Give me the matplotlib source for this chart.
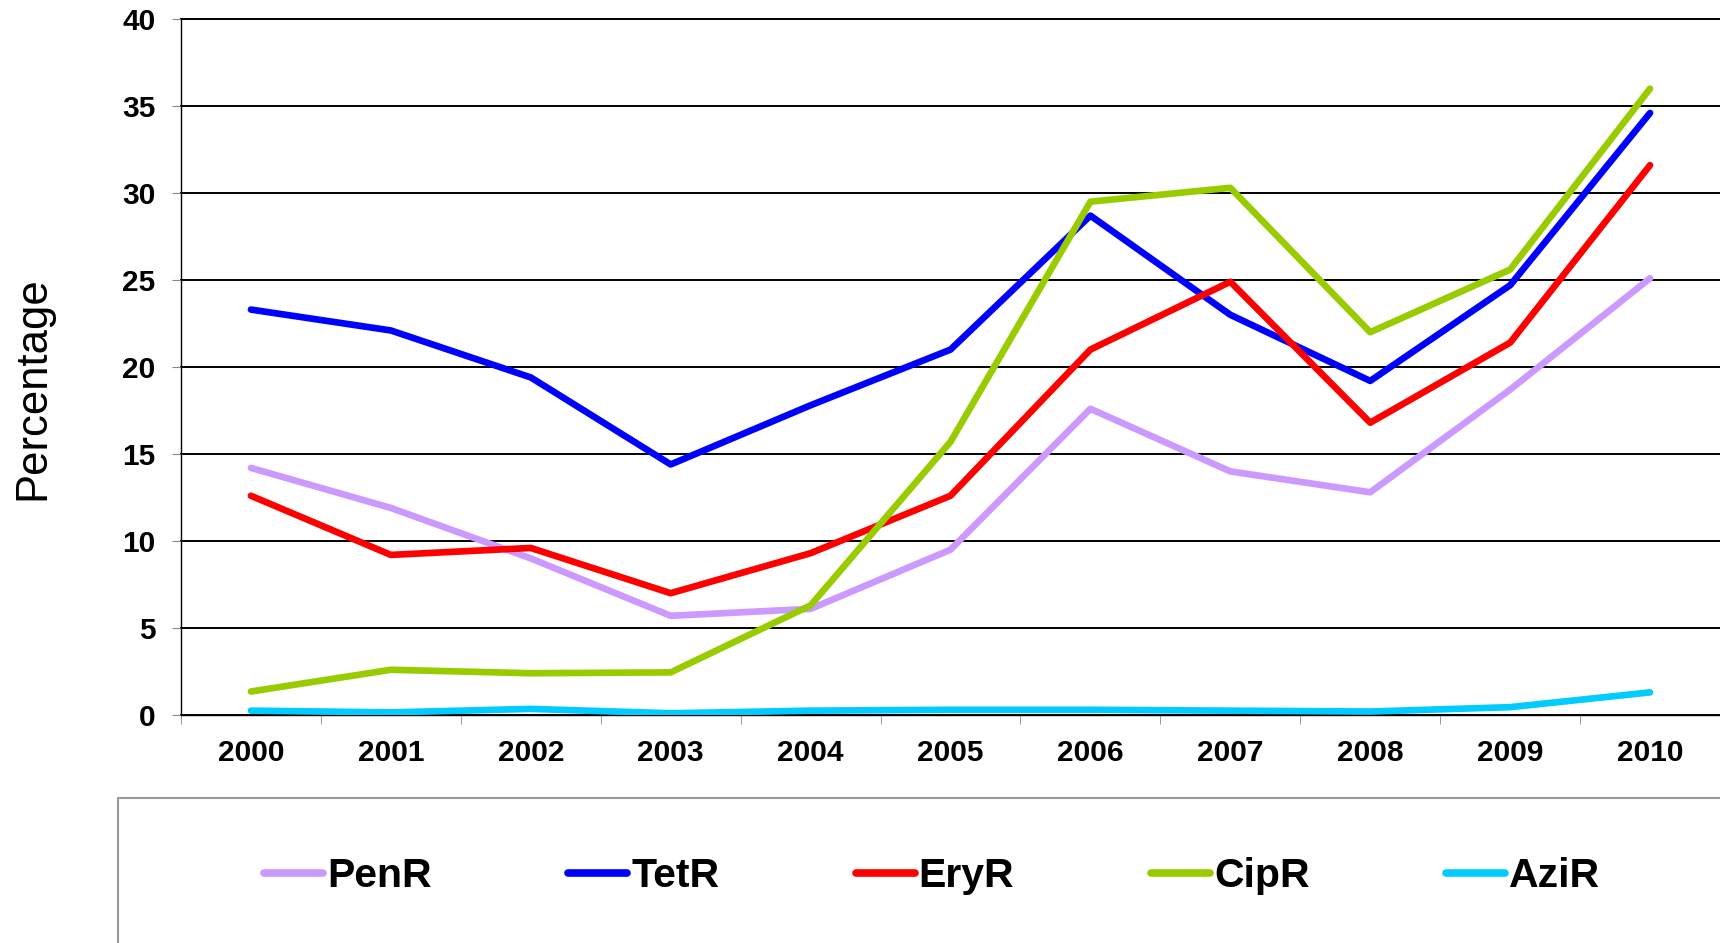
import matplotlib
matplotlib.use('Agg')
from matplotlib import pyplot as plt
from matplotlib.patches import Rectangle
import numpy as np

years = ['2000', '2001', '2002', '2003', '2004', '2005', '2006', '2007', '2008', '2009', '2010']
PenR = [14.2, 11.9, 9.0, 5.7, 6.1, 9.5, 17.6, 14.0, 12.8, 18.7, 25.1]
TetR = [23.3, 22.1, 19.4, 14.4, 17.8, 21.0, 28.7, 23.0, 19.2, 24.7, 34.6]
EryR = [12.6, 9.2, 9.6, 7.0, 9.3, 12.6, 21.0, 24.9, 16.8, 21.4, 31.6]
CipR = [1.35, 2.6, 2.4, 2.45, 6.3, 15.7, 29.5, 30.3, 22.0, 25.6, 36.0]
AziR = [0.25, 0.15, 0.35, 0.1, 0.25, 0.3, 0.3, 0.25, 0.2, 0.45, 1.3]

series = [('PenR', PenR, '#CC99FF'), ('TetR', TetR, '#0000FF'), ('EryR', EryR, '#FF0000'),
          ('CipR', CipR, '#99CC00'), ('AziR', AziR, '#00CCFF')]

plt.rcParams['font.family'] = ['Liberation Sans', 'DejaVu Sans']

fig = plt.figure(figsize=(17.2, 9.43), dpi=100)
ax = fig.add_axes([181/1720, 228/943, (1720-181)/1720, 696/943])

x = np.arange(len(years))
for name, vals, col in series:
    ax.plot(x, vals, color=col, lw=4.8, solid_capstyle='round', label=name, zorder=3)

ax.set_xlim(-0.5, len(years) - 0.5)
ax.set_ylim(0, 40)
ax.set_yticks(np.arange(0, 41, 5))
ax.set_xticks(x)
ax.set_xticklabels(years)
ax.set_xticks(np.arange(-0.5, len(years)), minor=True)

ax.tick_params(axis='y', length=6.5, color='#888888', pad=12, labelsize=21.5)
ax.tick_params(axis='x', which='major', length=0, pad=17, labelsize=21.5)
ax.tick_params(axis='x', which='minor', length=6.5, color='#888888')
for lab in ax.get_xticklabels() + ax.get_yticklabels():
    lab.set_fontweight('bold')

# gridlines
ax.yaxis.grid(True, color='black', lw=1.4, zorder=1)
ax.set_axisbelow(True)
for gl in ax.get_ygridlines():
    gl.set_clip_on(False)

for s in ['top', 'right']:
    ax.spines[s].set_visible(False)
ax.spines['left'].set_linewidth(1.0)
ax.spines['bottom'].set_linewidth(1.0)

fig.text(32.5/1720, 1 - 388.5/943, 'Percentage', rotation=90, fontsize=31.4,
         ha='center', va='center')

# legend box
fig.add_artist(Rectangle((118.5/1720, -0.01), 1.0, (943-797.5)/943 + 0.01,
                         transform=fig.transFigure, fill=False, edgecolor='#999999', lw=1.5))

leg = fig.legend(loc='center', bbox_to_anchor=(932/1720, 1 - 876/943), ncol=5, frameon=False,
                 prop={'weight': 'bold', 'size': 29.5}, handlelength=1.44, handletextpad=0.1,
                 columnspacing=3.33)
for h in leg.get_lines():
    h.set_linewidth(5.5)

fig.savefig('out.png', dpi=100)
